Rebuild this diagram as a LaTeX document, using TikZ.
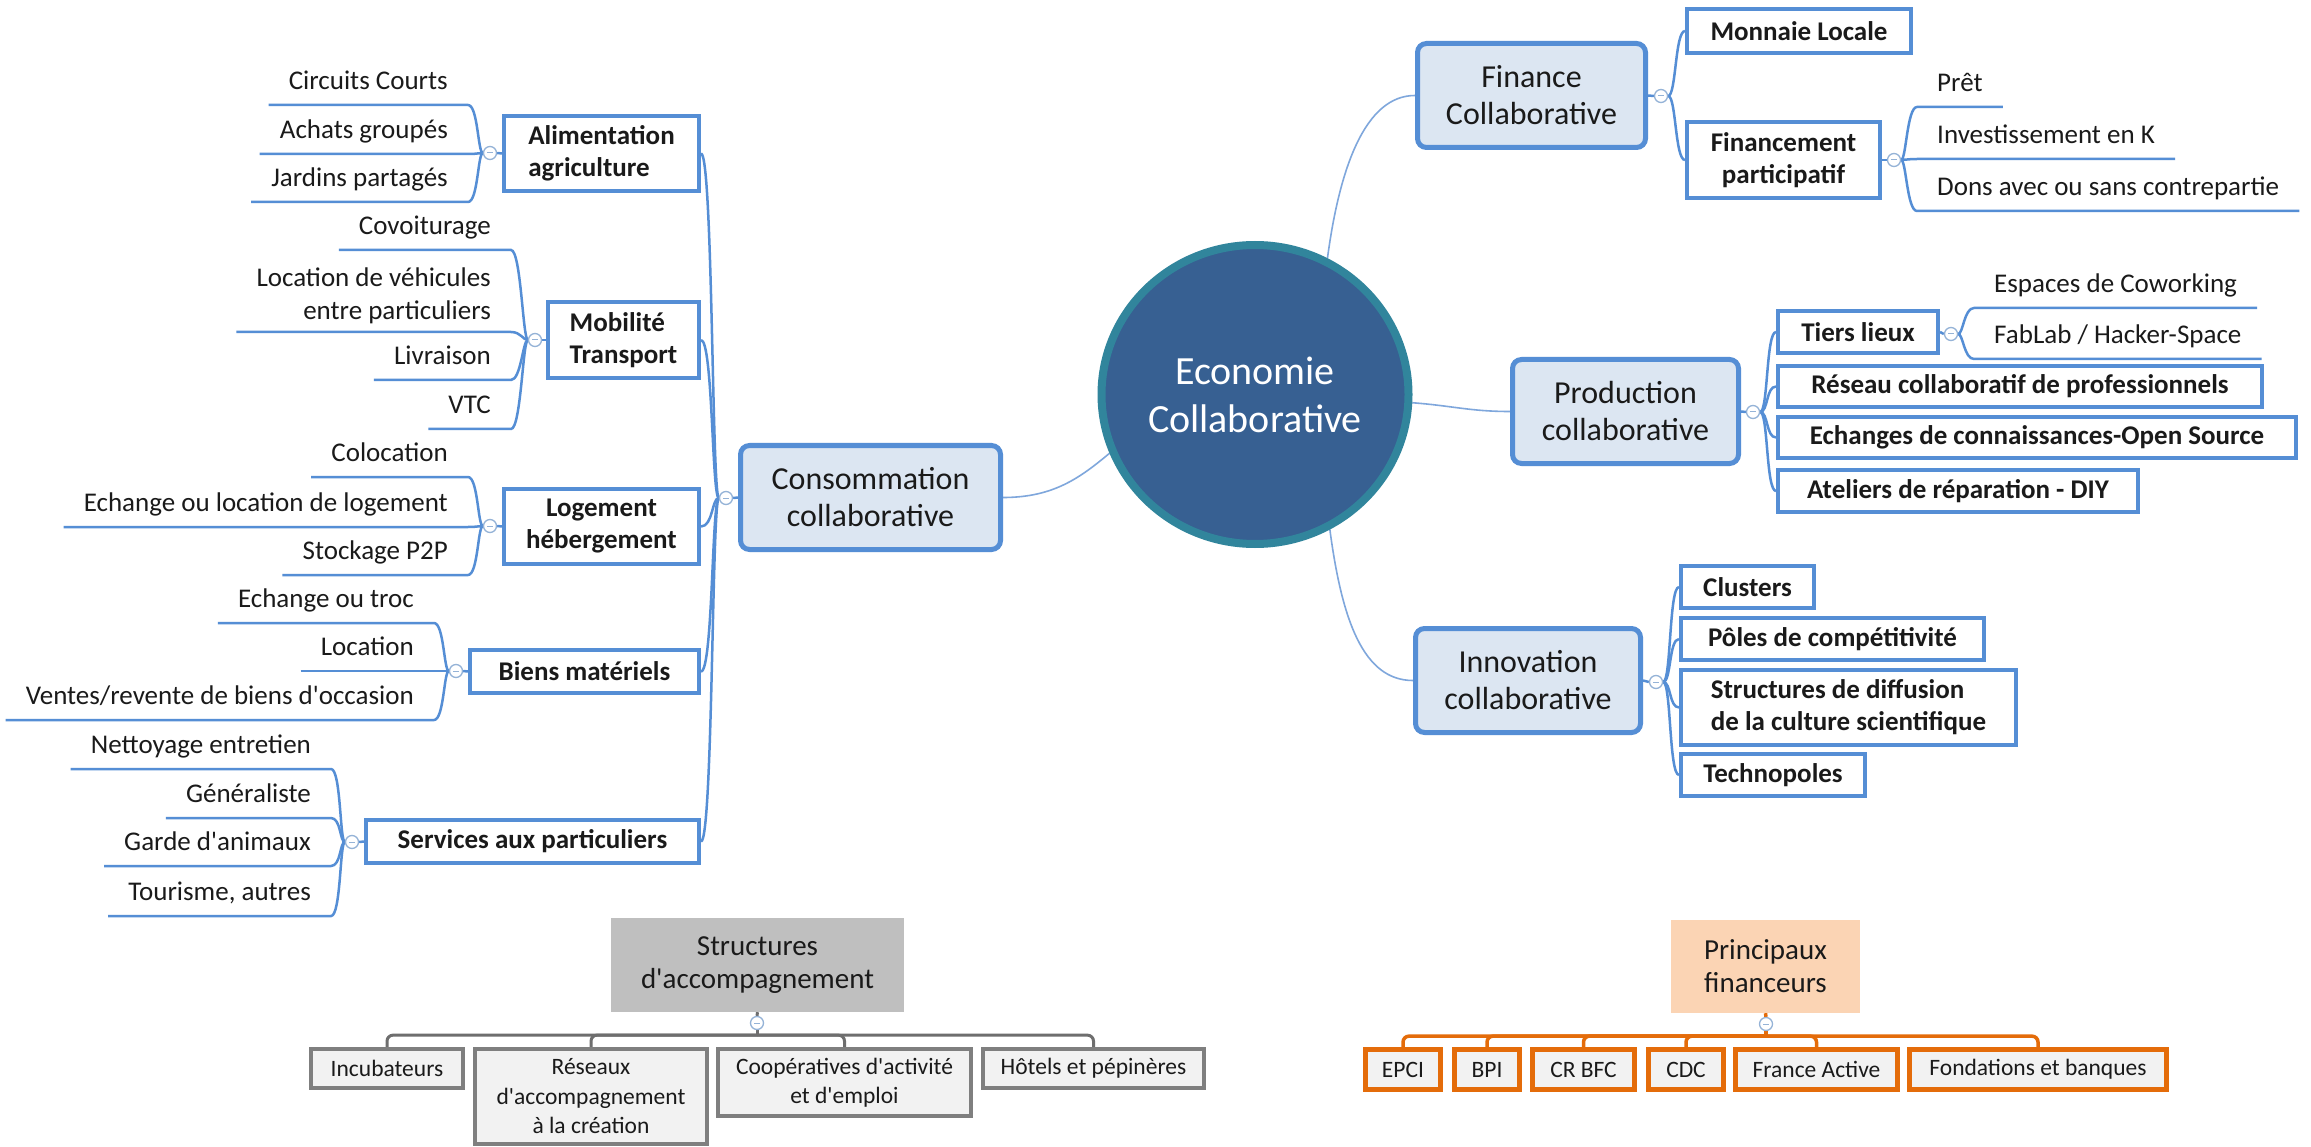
\documentclass[tikz,border=0pt]{standalone}
\usepackage{fontspec}
\setmainfont{Carlito}
\usetikzlibrary{shapes.geometric,calc,backgrounds}
\definecolor{boxblue}{HTML}{558ED5}
\definecolor{thinblue}{HTML}{7FA7DC}
\definecolor{fillblue}{HTML}{DCE6F2}
\definecolor{ecofill}{HTML}{376092}
\definecolor{ecoring}{HTML}{31859C}
\definecolor{ccblue}{HTML}{95B3D7}
\definecolor{hdrgray}{HTML}{BFBFBF}
\definecolor{boxgray}{HTML}{F2F2F2}
\definecolor{linegray}{HTML}{7F7F7F}
\definecolor{bargray}{HTML}{6E6E6E}
\definecolor{orng}{HTML}{E46C0A}
\definecolor{peach}{HTML}{FBD4B4}
\definecolor{txt}{HTML}{1A1A1A}
\begin{document}
\begin{tikzpicture}[x=1pt,y=-1pt,
  lvone/.style={draw=boxblue, line width=5pt, fill=fillblue, rounded corners=9pt, align=center, inner sep=0pt, text=txt, font=\fontsize{32}{37}\selectfont},
  lvtwo/.style={draw=boxblue, line width=4pt, fill=white, align=center, inner sep=0pt, text=txt, font=\bfseries\fontsize{27}{32}\selectfont},
  leafl/.style={anchor=south east, inner xsep=20pt, inner ysep=8pt, text depth=7pt, text=txt, font=\fontsize{27}{33}\selectfont},
  leafr/.style={anchor=south west, inner xsep=20pt, inner ysep=8pt, text depth=7pt, text=txt, font=\fontsize{27}{33}\selectfont},
  leaftwo/.style={anchor=south east, inner xsep=20pt, inner ysep=8pt, align=right, text=txt, font=\fontsize{27}{33}\selectfont},
  ccirc/.style={circle, draw=ccblue, fill=white, line width=1.3pt, minimum size=13pt, inner sep=0pt, path picture={\draw[line width=1pt, ccblue] ([xshift=-3pt]path picture bounding box.center) -- ([xshift=3pt]path picture bounding box.center);}},
  brline/.style={draw=boxblue, line width=2.5pt},
  thinc/.style={draw=thinblue, line width=1.6pt},
  hdr/.style={inner sep=0pt, align=center, text=txt, font=\fontsize{29}{33}\selectfont},
  gbox/.style={draw=linegray, line width=4pt, fill=boxgray, inner sep=0pt, align=center, text=txt, font=\fontsize{23.5}{29.5}\selectfont},
  obox/.style={draw=orng, line width=5pt, fill=boxgray, inner sep=0pt, align=center, text=txt, font=\fontsize{23.5}{29.5}\selectfont},
  gbar/.style={draw=bargray, line width=3pt, rounded corners=6pt},
  obar/.style={draw=orng, line width=3.5pt, rounded corners=6pt},
]
\useasboundingbox (0,0) rectangle (2311,1147);

% ---------- centre ----------
\node[ellipse, draw=ecoring, line width=8pt, fill=ecofill, minimum width=307pt, minimum height=299pt, inner sep=0pt, text=white, align=center, font=\fontsize{40}{48}\selectfont] (eco) at (1255,394.5) {Economie\\Collaborative};

% ---------- level one ----------
\node[lvone, minimum width=260pt, minimum height=104pt] (cons) at (870.5,497.5) {Consommation\\collaborative};
\node[lvone, minimum width=228pt, minimum height=104pt] (fin) at (1531.5,95.5) {Finance\\Collaborative};
\node[lvone, minimum width=226pt, minimum height=104pt] (prod) at (1625.5,411.5) {Production\\collaborative};
\node[lvone, minimum width=225pt, minimum height=104pt] (inno) at (1528,680.5) {Innovation\\collaborative};

% ---------- level two, left ----------
\node[lvtwo, align=left, minimum width=195pt, minimum height=75pt] (alim) at (601.5,153.5) {Alimentation\\agriculture};
\node[lvtwo, align=left, minimum width=151pt, minimum height=76pt] (mob) at (623.5,340) {Mobilité\\Transport};
\node[lvtwo, minimum width=195pt, minimum height=75pt] (loge) at (601.5,526.5) {Logement\\hébergement};
\node[lvtwo, minimum width=229pt, minimum height=43pt] (biens) at (584.5,671.5) {Biens matériels};
\node[lvtwo, minimum width=333pt, minimum height=43pt] (serv) at (532.5,841.5) {Services aux particuliers};

% ---------- level two, right ----------
\node[lvtwo, minimum width=224pt, minimum height=44pt] (mon) at (1799,31) {Monnaie Locale};
\node[lvtwo, minimum width=193pt, minimum height=76pt] (fpar) at (1783.5,160) {Financement\\participatif};
\node[lvtwo, minimum width=160pt, minimum height=42pt] (tiers) at (1858,332) {Tiers lieux};
\node[lvtwo, minimum width=484pt, minimum height=41pt] (res) at (2020,386.5) {Réseau collaboratif de professionnels};
\node[lvtwo, minimum width=518pt, minimum height=41pt] (ech) at (2037,437.5) {Echanges de connaissances-Open Source};
\node[lvtwo, minimum width=360pt, minimum height=42pt] (atel) at (1958,491) {Ateliers de réparation - DIY};
\node[lvtwo, minimum width=133pt, minimum height=42pt] (clus) at (1747.5,587) {Clusters};
\node[lvtwo, minimum width=303pt, minimum height=42pt] (poles) at (1832.5,639) {Pôles de compétitivité};
\node[lvtwo, align=left, minimum width=335pt, minimum height=75pt] (sdiff) at (1848.5,707.5) {Structures de diffusion\\de la culture scientifique};
\node[lvtwo, minimum width=184pt, minimum height=42pt] (techno) at (1773,775) {Technopoles};

% ---------- collapse circles ----------
\node[ccirc] (consC) at (726,498) {};
\node[ccirc] (alimC) at (490,153) {};
\node[ccirc] (mobC) at (535,340) {};
\node[ccirc] (logeC) at (490,526) {};
\node[ccirc] (biensC) at (456,671) {};
\node[ccirc] (servC) at (352,842) {};
\node[ccirc] (finC) at (1661,96) {};
\node[ccirc] (fparC) at (1894,160) {};
\node[ccirc] (prodC) at (1753,412) {};
\node[ccirc] (tiersC) at (1951,334) {};
\node[ccirc] (innoC) at (1656,682) {};
\node[ccirc] (saccC) at (757,1023) {};
\node[ccirc] (pfinC) at (1766,1024) {};

% ---------- leaves, left ----------
\node[leafl] (cc1) at (468,105) {Circuits Courts};
\node[leafl] (cc2) at (468,154) {Achats groupés};
\node[leafl] (cc3) at (468,202) {Jardins partagés};
\node[leafl] (mv1) at (511,250) {Covoiturage};
\node[leaftwo] (mv2) at (511,332) {Location de véhicules\\entre particuliers};
\node[leafl] (mv3) at (511,380) {Livraison};
\node[leafl] (mv4) at (511,429) {VTC};
\node[leafl] (lg1) at (468,477) {Colocation};
\node[leafl] (lg2) at (468,527) {Echange ou location de logement};
\node[leafl] (lg3) at (468,575) {Stockage P2P};
\node[leafl] (bm1) at (434,623) {Echange ou troc};
\node[leafl] (bm2) at (434,671) {Location};
\node[leafl] (bm3) at (434,720) {Ventes/revente de biens d\textquotesingle occasion};
\node[leafl] (sp1) at (331,769) {Nettoyage entretien};
\node[leafl] (sp2) at (331,818) {Généraliste};
\node[leafl] (sp3) at (331,866) {Garde d\textquotesingle animaux};
\node[leafl] (sp4) at (331,916) {Tourisme, autres};

% ---------- leaves, right ----------
\node[leafr] (pr1) at (1917,107) {Prêt};
\node[leafr] (pr2) at (1917,159) {Investissement en K};
\node[leafr] (pr3) at (1917,211) {Dons avec ou sans contrepartie};
\node[leafr] (tl1) at (1974,308) {Espaces de Coworking};
\node[leafr] (tl2) at (1974,359) {FabLab / Hacker-Space};

% ---------- bottom groups ----------
\node[hdr, fill=hdrgray, minimum width=293pt, minimum height=94pt] (sacc) at (757.5,965) {Structures\\d\textquotesingle accompagnement};
\node[gbox, minimum width=152pt, minimum height=39pt] (inc) at (387,1068.5) {Incubateurs};
\node[gbox, minimum width=232pt, minimum height=95pt] (racc) at (591,1096.5) {Réseaux\\d\textquotesingle accompagnement\\à la création};
\node[gbox, minimum width=253pt, minimum height=67pt] (coop) at (844.5,1082.5) {Coopératives d\textquotesingle activité\\et d\textquotesingle emploi};
\node[gbox, minimum width=221pt, minimum height=39pt] (hot) at (1093.5,1068.5) {Hôtels et pépinères};

\node[hdr, fill=peach, minimum width=189pt, minimum height=93pt] (pfin) at (1765.5,966.5) {Principaux\\financeurs};
\node[obox, minimum width=75pt, minimum height=40pt] (epci) at (1403,1069.5) {EPCI};
\node[obox, minimum width=65pt, minimum height=40pt] (bpi) at (1487,1069.5) {BPI};
\node[obox, minimum width=102pt, minimum height=40pt] (crbfc) at (1583.5,1069.5) {CR BFC};
\node[obox, minimum width=75pt, minimum height=40pt] (cdc) at (1686,1069.5) {CDC};
\node[obox, minimum width=162pt, minimum height=40pt] (fact) at (1816.5,1069.5) {France Active};
\node[obox, minimum width=257pt, minimum height=40pt] (fond) at (2038,1069.5) {Fondations et banques};

\coordinate (saccJ) at ($(saccC.south)+(0,5)$);
\coordinate (pfinJ) at ($(pfinC.south)+(0,5)$);

\begin{pgfonlayer}{background}
\fill[white] (0,0) rectangle (2311,1147);
% centre connectors
\draw[thinc] (cons.east) .. controls +(50,0) and +(-30,25) .. (eco.202);
\draw[thinc] (eco.62) .. controls +(12,-90) and +(-50,0) .. (fin.west);
\draw[thinc] (eco.-3) .. controls +(40,3) and +(-40,0) .. (prod.west);
\draw[thinc] (eco.-61) .. controls +(12,90) and +(-50,0) .. (inno.west);

% box to own circle
\draw[brline] (cons.west) -- (consC.east);
\draw[brline] (alim.west) -- (alimC.east);
\draw[brline] (mob.west) -- (mobC.east);
\draw[brline] (loge.west) -- (logeC.east);
\draw[brline] (biens.west) -- (biensC.east);
\draw[brline] (serv.west) -- (servC.east);
\draw[brline] (fin.east) -- (finC.west);
\draw[brline] (fpar.east) -- (fparC.west);
\draw[brline] (prod.east) -- (prodC.west);
\draw[brline] (tiers.east) -- (tiersC.west);
\draw[brline] (inno.east) -- (innoC.west);

% consommation bracket
\foreach \b in {alim,mob,loge,biens,serv}
  \draw[brline] (\b.east) .. controls +(12,0) and +(-7,0) .. (consC.west);

% right brackets
\foreach \b in {mon,fpar}
  \draw[brline] (finC.east) .. controls +(8,0) and +(-10,0) .. (\b.west);
\foreach \b in {tiers,res,ech,atel}
  \draw[brline] (prodC.east) .. controls +(8,0) and +(-10,0) .. (\b.west);
\foreach \b in {clus,poles,sdiff,techno}
  \draw[brline] (innoC.east) .. controls +(8,0) and +(-10,0) .. (\b.west);

% left leaves
\foreach \l in {cc1,cc2,cc3}
  \draw[brline] (\l.south west) -- (\l.south east) .. controls +(10,0) and +(-5,0) .. (alimC.west);
\foreach \l in {mv1,mv2,mv3,mv4}
  \draw[brline] (\l.south west) -- (\l.south east) .. controls +(10,0) and +(-5,0) .. (mobC.west);
\foreach \l in {lg1,lg2,lg3}
  \draw[brline] (\l.south west) -- (\l.south east) .. controls +(10,0) and +(-5,0) .. (logeC.west);
\foreach \l in {bm1,bm2,bm3}
  \draw[brline] (\l.south west) -- (\l.south east) .. controls +(10,0) and +(-5,0) .. (biensC.west);
\foreach \l in {sp1,sp2,sp3,sp4}
  \draw[brline] (\l.south west) -- (\l.south east) .. controls +(10,0) and +(-5,0) .. (servC.west);

% right leaves
\foreach \l in {pr1,pr2,pr3}
  \draw[brline] (\l.south east) -- (\l.south west) .. controls +(-10,0) and +(5,0) .. (fparC.east);
\foreach \l in {tl1,tl2}
  \draw[brline] (\l.south east) -- (\l.south west) .. controls +(-10,0) and +(5,0) .. (tiersC.east);

% bottom trees
\draw[gbar] (sacc.south) -- (saccC.north);
\draw[gbar] (saccC.south) -- (saccJ);
\foreach \c in {inc,racc,coop,hot}
  \draw[gbar] (saccJ) -| (\c.north);
\draw[obar] (pfin.south) -- (pfinC.north);
\draw[obar] (pfinC.south) -- (pfinJ);
\foreach \c in {epci,bpi,crbfc,cdc,fact,fond}
  \draw[obar] (pfinJ) -| (\c.north);
\end{pgfonlayer}
\end{tikzpicture}
\end{document}
